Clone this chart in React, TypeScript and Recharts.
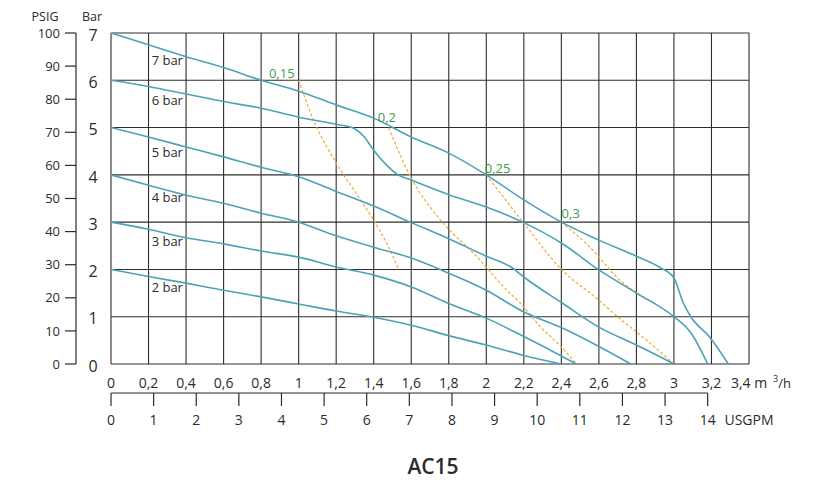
import React from "react";
import {
  LineChart,
  Line,
  XAxis,
  YAxis,
  CartesianGrid,
  ReferenceDot,
  ReferenceLine,
} from "recharts";

// axis ticks
const flowTicks = [0, 0.2, 0.4, 0.6, 0.8, 1, 1.2, 1.4, 1.6, 1.8, 2, 2.2, 2.4, 2.6, 2.8, 3, 3.2, 3.4];
const barTicks = [0, 1, 2, 3, 4, 5, 6, 7];
const psiTicks = [0, 10, 20, 30, 40, 50, 60, 70, 80, 90, 100];
const gpmTicks = [0, 1, 2, 3, 4, 5, 6, 7, 8, 9, 10, 11, 12, 13, 14];
const M3H_TO_GPM = 4.40287;
const BAR_TO_PSI = 100 / 7; // the chart draws 100 PSIG level with 7 bar

// pressure curves: [flow m3/h, outlet pressure bar]
const curve7 = [
  [0, 7], [0.2, 6.75], [0.4, 6.5], [0.6, 6.27], [0.8, 6.0], [1.0, 5.77], [1.2, 5.48],
  [1.4, 5.2], [1.6, 4.8], [1.8, 4.46], [2.0, 4.0], [2.2, 3.47], [2.4, 3.0], [2.6, 2.62],
  [2.8, 2.28], [2.93, 2.03], [3.0, 1.82], [3.05, 1.29], [3.09, 1.0], [3.19, 0.57], [3.29, 0],
];
const curve6 = [
  [0, 6], [0.2, 5.87], [0.4, 5.71], [0.6, 5.55], [0.8, 5.41], [1.0, 5.22], [1.2, 5.07],
  [1.29, 4.99], [1.35, 4.8], [1.4, 4.52], [1.47, 4.2], [1.53, 4.0], [1.6, 3.89], [1.8, 3.58],
  [2.0, 3.32], [2.2, 2.99], [2.4, 2.56], [2.6, 1.99], [2.8, 1.5], [3.0, 1.0], [3.09, 0.66], [3.18, 0],
];
const curve5 = [
  [0, 5], [0.2, 4.8], [0.4, 4.59], [0.6, 4.38], [0.8, 4.16], [1.0, 3.96], [1.2, 3.65],
  [1.4, 3.34], [1.6, 2.99], [1.8, 2.65], [2.0, 2.28], [2.14, 2.03], [2.2, 1.84], [2.4, 1.3],
  [2.6, 0.78], [2.8, 0.4], [3.0, 0],
];
const curve4 = [
  [0, 4], [0.2, 3.78], [0.4, 3.57], [0.6, 3.4], [0.8, 3.19], [1.0, 3.0], [1.2, 2.71],
  [1.4, 2.47], [1.6, 2.24], [1.8, 1.92], [2.0, 1.56], [2.2, 1.1], [2.4, 0.77], [2.6, 0.37], [2.77, 0],
];
const curve3 = [
  [0, 3], [0.2, 2.85], [0.4, 2.67], [0.6, 2.54], [0.8, 2.39], [1.0, 2.26], [1.2, 2.05],
  [1.4, 1.88], [1.6, 1.63], [1.8, 1.28], [2.0, 0.97], [2.2, 0.58], [2.4, 0.17], [2.48, 0],
];
const curve2 = [
  [0, 2], [0.2, 1.85], [0.4, 1.71], [0.6, 1.56], [0.8, 1.42], [1.0, 1.27], [1.2, 1.12],
  [1.4, 0.99], [1.6, 0.82], [1.8, 0.6], [2.0, 0.4], [2.2, 0.18], [2.4, 0],
];

// air consumption lines (Nm3/min)
const air015 = [[1.0, 6.0], [1.08, 5.15], [1.2, 4.25], [1.32, 3.53], [1.4, 3.04], [1.48, 2.47], [1.53, 2.03]];
const air02 = [
  [1.48, 5.0], [1.53, 4.52], [1.6, 3.93], [1.7, 3.32], [1.8, 2.85], [1.93, 2.35],
  [2.11, 1.56], [2.18, 1.29], [2.29, 0.78], [2.4, 0.36], [2.48, 0],
];
const air025 = [[2.0, 4.0], [2.2, 2.98], [2.4, 2.0], [2.6, 1.35], [2.72, 0.93], [2.8, 0.68], [3.0, 0]];
const air03 = [[2.4, 3.0], [2.55, 2.48], [2.71, 1.78], [2.89, 1.31]];

const pressureCurves = [curve7, curve6, curve5, curve4, curve3, curve2];
const airCurves = [air015, air02, air025, air03];

const barLabels = ["7 bar", "6 bar", "5 bar", "4 bar", "3 bar", "2 bar"];
const barLabelSpots = [[0.3, 6.43], [0.3, 5.58], [0.3, 4.48], [0.3, 3.53], [0.3, 2.6], [0.3, 1.61]];
const airLabels = ["0,15", "0,2", "0,25", "0,3"];
const airLabelSpots = [[0.91, 6.15], [1.47, 5.22], [2.06, 4.14], [2.45, 3.19]];

const TEAL = "#4ba3b7";
const ORANGE = "#f2a93b";
const GREEN = "#3d9c4c";
const INK = "#2b2b2b";
const GRID = "#2e2e2e";

const toPts = (c: number[][]) => c.map(([x, y]) => ({ x, y }));
// same 7 bar curve in USGPM / PSIG so the secondary axes have data
const shadowPts = curve7.map(([x, y]) => ({ g: x * M3H_TO_GPM, p: y * BAR_TO_PSI }));

const fmtFlow = (v: number) => {
  const s = String(Math.round(v * 10) / 10).replace(".", ",");
  return v > 3.35 ? `${s} m` : s;
};

function BarTick({ x, y, payload }: any) {
  return (
    <text x={x - 18} y={y + 2} dy="0.36em" textAnchor="middle" fontSize={16} fill={INK}>
      {payload.value}
    </text>
  );
}

const abs = (x: number, y: number, size: number, weight = 400): React.CSSProperties => ({
  position: "absolute",
  left: x,
  top: y,
  transform: "translate(-50%, -50%)",
  fontSize: size,
  fontWeight: weight,
  lineHeight: 1,
  color: INK,
  whiteSpace: "nowrap",
});

export default function App() {
  return (
    <div
      style={{
        position: "absolute",
        left: 0,
        top: 0,
        width: 819,
        height: 484,
        background: "#fff",
        fontFamily: "'Open Sans', sans-serif",
      }}
    >
      <LineChart width={819} height={484} margin={{ top: 33, right: 70, left: 6, bottom: 51 }}>
        <CartesianGrid xAxisId="a_m3" yAxisId="a_bar" stroke={GRID} strokeWidth={1.1} />
        <XAxis
          xAxisId="a_m3"
          dataKey="x"
          type="number"
          domain={[0, 3.4]}
          ticks={flowTicks}
          interval={0}
          tickFormatter={fmtFlow}
          axisLine={false}
          tickLine={false}
          tickSize={0}
          tickMargin={14}
          height={29}
          tick={{ fontSize: 14, fill: INK }}
        />
        <XAxis
          xAxisId="b_gpm"
          dataKey="g"
          type="number"
          domain={[0, 3.4 * M3H_TO_GPM]}
          allowDataOverflow
          ticks={gpmTicks}
          interval={0}
          axisLine={false}
          tickLine={{ stroke: INK, strokeWidth: 1.2 }}
          tickSize={13}
          tickMargin={9}
          height={40}
          tick={{ fontSize: 14, fill: INK }}
        />
        <YAxis
          yAxisId="a_bar"
          type="number"
          domain={[0, 7]}
          ticks={barTicks}
          interval={0}
          axisLine={false}
          tickLine={false}
          tickSize={0}
          tickMargin={0}
          width={35}
          tick={<BarTick />}
        />
        <YAxis
          yAxisId="b_psi"
          type="number"
          domain={[0, 100]}
          allowDataOverflow
          ticks={psiTicks}
          interval={0}
          axisLine={{ stroke: INK, strokeWidth: 1.2 }}
          tickLine={{ stroke: INK, strokeWidth: 1.2 }}
          tickSize={11}
          tickMargin={5}
          width={70}
          tick={{ fontSize: 13, fill: INK }}
        />
        <Line
          xAxisId="b_gpm"
          yAxisId="b_psi"
          data={shadowPts}
          dataKey="p"
          stroke="none"
          dot={false}
          activeDot={false}
          legendType="none"
          isAnimationActive={false}
        />
        <ReferenceLine
          xAxisId="b_gpm"
          yAxisId="a_bar"
          segment={[{ x: 0, y: -0.613 }, { x: 14, y: -0.613 }]}
          ifOverflow="visible"
          stroke={INK}
          strokeWidth={1.2}
        />
        {airCurves.map((c, i) => (
          <Line
            key={`air${i}`}
            xAxisId="a_m3"
            yAxisId="a_bar"
            data={toPts(c)}
            dataKey="y"
            type="monotone"
            stroke={ORANGE}
            strokeWidth={1.2}
            strokeDasharray="3 2"
            dot={false}
            activeDot={false}
            isAnimationActive={false}
          />
        ))}
        {pressureCurves.map((c, i) => (
          <Line
            key={`p${i}`}
            xAxisId="a_m3"
            yAxisId="a_bar"
            data={toPts(c)}
            dataKey="y"
            type="monotone"
            stroke={TEAL}
            strokeWidth={1.6}
            dot={false}
            activeDot={false}
            isAnimationActive={false}
          />
        ))}
        {barLabels.map((t, i) => (
          <ReferenceDot
            key={t}
            xAxisId="a_m3"
            yAxisId="a_bar"
            x={barLabelSpots[i][0]}
            y={barLabelSpots[i][1]}
            r={0}
            fill="none"
            stroke="none"
            label={{ value: t, position: "center", fontSize: 13, fill: INK }}
          />
        ))}
        {airLabels.map((t, i) => (
          <ReferenceDot
            key={t}
            xAxisId="a_m3"
            yAxisId="a_bar"
            x={airLabelSpots[i][0]}
            y={airLabelSpots[i][1]}
            r={0}
            fill="none"
            stroke="none"
            label={{ value: t, position: "center", fontSize: 13, fill: GREEN }}
          />
        ))}
      </LineChart>
      <div style={abs(45, 17, 12.5)}>PSIG</div>
      <div style={abs(92, 17, 12.5)}>Bar</div>
      <div style={abs(782, 382, 13)}>
        <sup style={{ fontSize: 9 }}>3</sup>/h
      </div>
      <div style={abs(749, 420, 14)}>USGPM</div>
      <div style={abs(433, 466, 21, 600)}>AC15</div>
    </div>
  );
}
